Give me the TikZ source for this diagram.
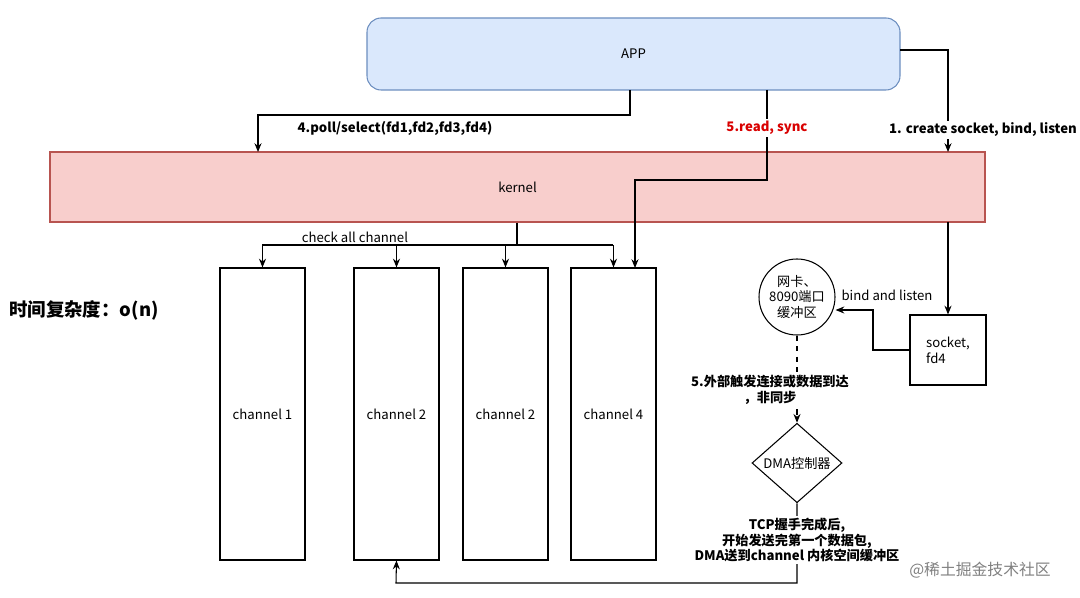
\documentclass[tikz,border=0pt]{standalone}
\usepackage{fontspec}
\setmainfont{Noto Sans CJK SC}
\usetikzlibrary{arrows.meta, shapes.geometric}
\definecolor{appfill}{HTML}{DAE8FC}
\definecolor{appline}{HTML}{6C8EBF}
\definecolor{kfill}{HTML}{F8CECC}
\definecolor{kline}{HTML}{B85450}
\begin{document}
\begin{tikzpicture}[x=0.02cm, y=-0.02cm,
  font=\fontsize{7.5}{9}\selectfont,
  arr/.style={-{Stealth[length=5pt,width=4pt]}, line width=0.6pt},
  box/.style={draw, line width=0.6pt, minimum width=85*0.02cm, minimum height=292*0.02cm, inner sep=0pt},
  lbl/.style={font=\fontsize{7.5}{9}\selectfont\bfseries, fill=white, inner sep=1pt, align=center}]
\useasboundingbox (0,0) rectangle (1080,598);

% APP and kernel
\node[draw=appline, fill=appfill, rounded corners=8pt, line width=0.6pt,
  minimum width=533*0.02cm, minimum height=72*0.02cm] (app) at (633.5,54) {APP};
\node[draw=kline, fill=kfill, line width=0.6pt,
  minimum width=935*0.02cm, minimum height=70*0.02cm] (kernel) at (517.5,187) {kernel};

% channels
\node[box] (c1) at (262.5,414) {channel 1};
\node[box] (c2) at (396.5,414) {channel 2};
\node[box] (c3) at (505.5,414) {channel 2};
\node[box] (c4) at (613.5,414) {channel 4};

\node[anchor=west, font=\fontsize{10.5}{12}\selectfont\bfseries] (tc) at (3,310) {时间复杂度：o(n)};

% socket side
\node[draw, line width=0.6pt, minimum width=76*0.02cm, minimum height=70*0.02cm, align=left] (sock) at (948,350) {socket,\\fd4};
\node[draw, circle, line width=0.6pt, minimum size=76*0.02cm, inner sep=0pt, align=center,
  font=\fontsize{7.5}{9}\selectfont] (nic) at (797,297) {网卡、\\8090端口\\缓冲区};
\node[draw, diamond, line width=0.6pt, minimum width=90*0.02cm, minimum height=76*0.02cm, inner sep=0pt] (dma) at (797,463) {DMA控制器};

% APP -> kernel / channel
\draw[arr] (630,90) -- (630,115) -- (258,115) -- (258,152);
\node[lbl] at (395,128) {4.poll/select(fd1,fd2,fd3,fd4)};
\draw[arr] (767,90) -- (767,180) -- (635,180) -- (635,268);
\node[lbl, text=red!85!black] at (767,128) {5.read, sync};
\draw[arr] (900,50) -- (948,50) -- (948,152);
\node[lbl] at (983,130) {1. create socket, bind, listen};

% kernel -> channels
\coordinate (kb) at (517,245);
\draw[line width=0.6pt] (kernel.south -| kb) -- (kb);
\draw[line width=0.6pt] (262,245) -- (613,245);
\foreach \c in {c1,c2,c3,c4} \draw[arr] (kb -| \c.north) -- (\c.north);
\node[anchor=south, inner sep=1pt] at (355,245) {check all channel};

% socket flow
\draw[arr] (948,222) -- (sock.north);
\draw[arr] (sock.west) -- (873,350) -- (873,310) -- (nic.east |- 0,310);
\node at (887,295) {bind and listen};
\draw[arr, dashed] (nic.south) -- (dma.north);
\node[lbl] at (770,390) {5.外部触发连接或数据到达\\，非同步};
\draw[arr] (dma.south) -- (797,583) -- (396,583) -- (c2.south);
\node[lbl] at (797,540) {TCP握手完成后,\\开始发送完第一个数据包,\\DMA送到channel 内核空间缓冲区};

\node[text=gray, font=\fontsize{9}{10}\selectfont] at (980,570) {@稀土掘金技术社区};
\end{tikzpicture}
\end{document}
